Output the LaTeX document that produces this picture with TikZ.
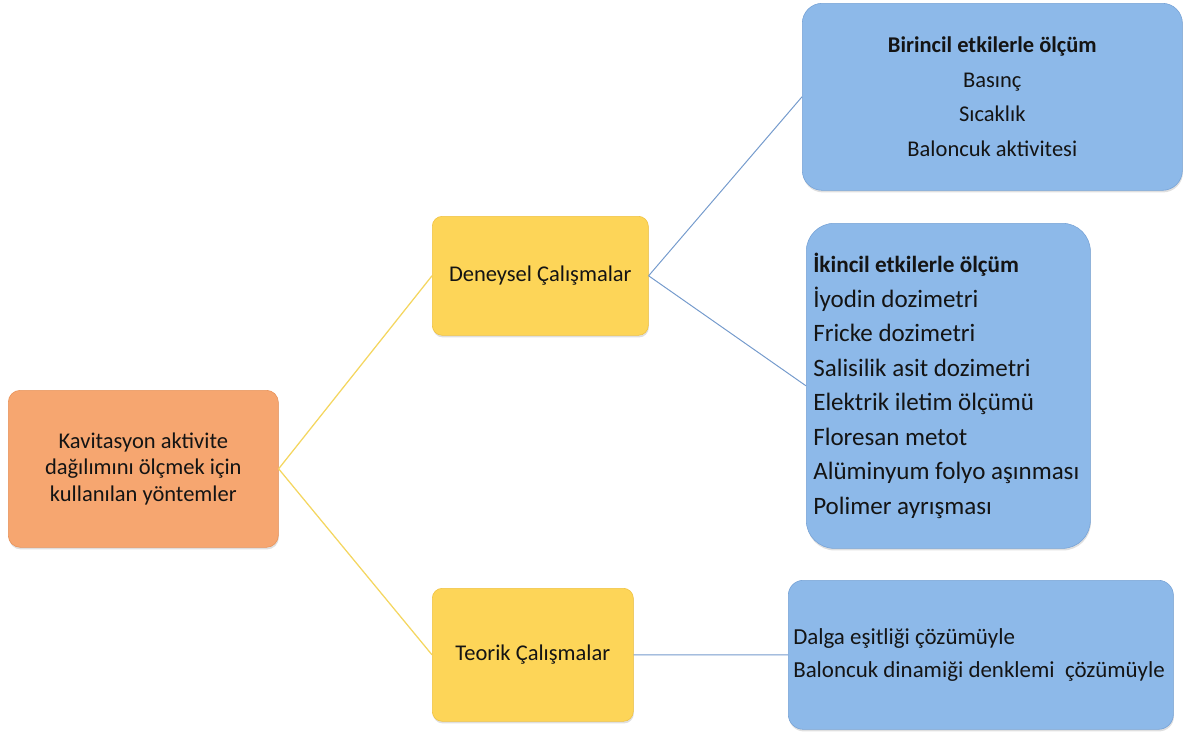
\documentclass[tikz,border=0pt]{standalone}
\usepackage{fontspec}
\setmainfont{Carlito}
\usepackage{xcolor}
\usetikzlibrary{shadows}
\definecolor{myorange}{RGB}{246,166,112}
\definecolor{myorangeD}{RGB}{232,146,88}
\definecolor{myyellow}{RGB}{253,213,88}
\definecolor{myyellowD}{RGB}{240,194,64}
\definecolor{myblue}{RGB}{141,185,233}
\definecolor{myblueD}{RGB}{118,162,214}
\definecolor{mytext}{RGB}{20,20,20}
\definecolor{lineyellow}{RGB}{244,214,96}
\definecolor{lineblue}{RGB}{116,154,204}

\begin{document}
\begin{tikzpicture}[x=0.025cm, y=-0.025cm,
        o/.style={draw=myorangeD, fill=myorange, rounded corners=0.3cm,
                  minimum width=6.75cm, minimum height=3.925cm,
                  font=\fontsize{16}{19}\selectfont, align=center,
                  text=mytext, anchor=north west,
                  drop shadow={opacity=0.25, shadow xshift=0.4pt, shadow yshift=-1.5pt}},
        ye/.style={draw=myyellowD, fill=myyellow, rounded corners=0.25cm,
                  font=\fontsize{16}{19}\selectfont, align=center,
                  text=mytext, anchor=north west,
                  drop shadow={opacity=0.25, shadow xshift=0.4pt, shadow yshift=-1.5pt}},
        b/.style={draw=myblueD, fill=myblue, rounded corners=0.5cm,
                  font=\fontsize{16}{24.5}\selectfont, align=center,
                  text=mytext, anchor=north west,
                  drop shadow={opacity=0.25, shadow xshift=0.4pt, shadow yshift=-1.5pt}},
        bl/.style={b, align=flush left},
        lny/.style={draw=lineyellow, line width=0.9pt},
        lnb/.style={draw=lineblue, line width=0.7pt}
      ]
        \useasboundingbox (0,0) rectangle (1185,733);
        % root and the two branches
        \node[o] (kav) at (8,390)
              {Kavitasyon aktivite\\dağılımını ölçmek için\\kullanılan yöntemler};
        \node[ye, minimum width=5.4cm, minimum height=2.975cm] (den) at (432,216)
              {Deneysel Çalışmalar};
        \node[ye, minimum width=5.025cm, minimum height=3.325cm] (teo) at (432,588)
              {Teorik Çalışmalar};
        % leaves
        \node[b, minimum width=9.5cm, minimum height=4.675cm] (bir) at (802,3)
              {\textbf{Birincil etkilerle ölçüm}\\Basınç\\Sıcaklık\\Baloncuk aktivitesi};
        \node[bl, rounded corners=0.7cm, text width=6.75cm, inner xsep=0.175cm,
              font=\fontsize{17.8}{24.5}\selectfont,
              minimum height=8.125cm] (iki) at (806,223)
              {{\fontsize{16.5}{24.5}\selectfont\bfseries İkincil etkilerle ölçüm}\\
               İyodin dozimetri\\Fricke dozimetri\\
               Salisilik asit dozimetri\\Elektrik iletim ölçümü\\Floresan metot\\
               \mbox{Alüminyum folyo aşınması}\\Polimer ayrışması};
        \node[bl, rounded corners=0.375cm, text width=9.375cm, inner xsep=0.125cm,
              font=\fontsize{16.3}{23.5}\selectfont,
              minimum height=3.725cm] (dal) at (788,580)
              {Dalga eşitliği çözümüyle\\\mbox{Baloncuk dinamiği denklemi\ \ çözümüyle}};
        \draw[lny] (kav.east) -- (den.west);
        \draw[lny] (kav.east) -- (teo.west);
        \draw[lnb] (den.east) -- (bir.west);
        \draw[lnb] (den.east) -- (iki.west);
        \draw[lnb] (teo.east) -- (dal.west);
      \end{tikzpicture}
\end{document}
